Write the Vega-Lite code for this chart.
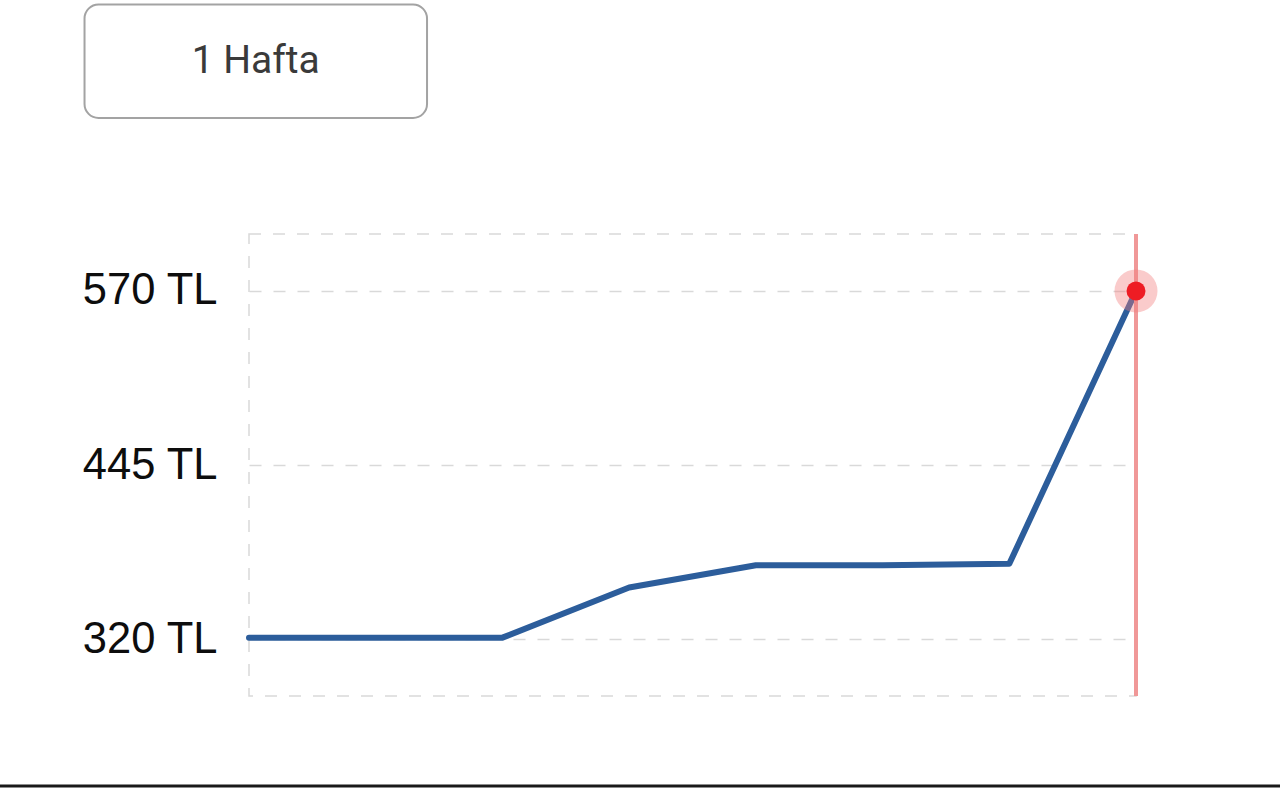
{
  "$schema": "https://vega.github.io/schema/vega-lite/v6.json",
  "width": 887,
  "height": 462,
  "autosize": {"type": "none"},
  "padding": {"left": 249, "top": 234, "right": 144, "bottom": 93},
  "background": "white",
  "config": {
    "view": {"stroke": "#d9d9d9", "strokeDash": [12, 12], "strokeWidth": 1.5},
    "axisY": {
      "labelExpr": "datum.value + ' TL'",
      "labelFont": "Liberation Sans",
      "labelFontSize": 43.5,
      "labelColor": "#0d0d0d",
      "labelPadding": 32,
      "ticks": false,
      "tickSize": 0,
      "domain": false,
      "grid": true,
      "gridColor": "#d9d9d9",
      "gridDash": [12, 12],
      "gridWidth": 1.5
    }
  },
  "data": {
    "values": [
      {"gun": 1, "fiyat": 321},
      {"gun": 2, "fiyat": 321},
      {"gun": 3, "fiyat": 321},
      {"gun": 4, "fiyat": 357},
      {"gun": 5, "fiyat": 373},
      {"gun": 6, "fiyat": 373},
      {"gun": 7, "fiyat": 374},
      {"gun": 8, "fiyat": 570}
    ]
  },
  "layer": [
    {
      "mark": {"type": "line", "color": "#2c5d9b", "strokeWidth": 6, "strokeCap": "round", "strokeJoin": "round"},
      "encoding": {
        "x": {"field": "gun", "type": "quantitative", "scale": {"domain": [1, 8]}, "axis": null, "title": null},
        "y": {
          "field": "fiyat",
          "type": "quantitative",
          "scale": {"domain": [279.1, 610.9], "nice": false, "zero": false},
          "title": null,
          "axis": {"values": [320, 445, 570]}
        }
      }
    },
    {
      "data": {"values": [{"etiket": "1 Hafta"}]},
      "mark": {"type": "rect", "fill": "white", "stroke": "#a3a3a3", "strokeWidth": 2, "cornerRadius": 14},
      "encoding": {
        "x": {"datum": -0.298, "type": "quantitative", "scale": {"domain": [1, 8]}, "axis": null, "title": null},
        "x2": {"datum": 2.405},
        "y": {"datum": 775.7, "type": "quantitative", "scale": {"domain": [279.1, 610.9], "nice": false, "zero": false}, "title": null, "axis": {"values": [320, 445, 570]}},
        "y2": {"datum": 694.2}
      }
    },
    {
      "data": {"values": [{"etiket": "1 Hafta"}]},
      "mark": {"type": "text", "font": "Roboto", "fontSize": 39, "color": "#3a3a3a", "align": "center", "baseline": "middle"},
      "encoding": {
        "x": {"datum": 1.053, "type": "quantitative", "scale": {"domain": [1, 8]}, "axis": null, "title": null},
        "y": {"datum": 735, "type": "quantitative", "scale": {"domain": [279.1, 610.9], "nice": false, "zero": false}, "title": null, "axis": {"values": [320, 445, 570]}},
        "text": {"field": "etiket"}
      }
    },
    {
      "data": {"values": [{"etiket": "alt çizgi"}]},
      "mark": {"type": "rule", "color": "#1a1a1a", "strokeWidth": 3},
      "encoding": {
        "x": {"datum": -0.97, "type": "quantitative", "scale": {"domain": [1, 8]}, "axis": null, "title": null},
        "x2": {"datum": 9.14},
        "y": {"datum": 214.5, "type": "quantitative", "scale": {"domain": [279.1, 610.9], "nice": false, "zero": false}, "title": null, "axis": {"values": [320, 445, 570]}}
      }
    },
    {
      "transform": [{"filter": "datum.gun == 8"}],
      "mark": {"type": "rule", "color": "#f09898", "strokeWidth": 4},
      "encoding": {
        "x": {"field": "gun", "type": "quantitative", "scale": {"domain": [1, 8]}, "axis": null, "title": null}
      }
    },
    {
      "transform": [{"filter": "datum.gun == 8"}],
      "mark": {"type": "point", "filled": true, "color": "#f27c7c", "opacity": 0.4, "size": 1850},
      "encoding": {
        "x": {"field": "gun", "type": "quantitative", "scale": {"domain": [1, 8]}, "axis": null, "title": null},
        "y": {"field": "fiyat", "type": "quantitative", "scale": {"domain": [279.1, 610.9], "nice": false, "zero": false}, "title": null, "axis": {"values": [320, 445, 570]}}
      }
    },
    {
      "transform": [{"filter": "datum.gun == 8"}],
      "mark": {"type": "point", "filled": true, "color": "#ee1c24", "opacity": 1, "size": 360},
      "encoding": {
        "x": {"field": "gun", "type": "quantitative", "scale": {"domain": [1, 8]}, "axis": null, "title": null},
        "y": {"field": "fiyat", "type": "quantitative", "scale": {"domain": [279.1, 610.9], "nice": false, "zero": false}, "title": null, "axis": {"values": [320, 445, 570]}}
      }
    }
  ]
}
